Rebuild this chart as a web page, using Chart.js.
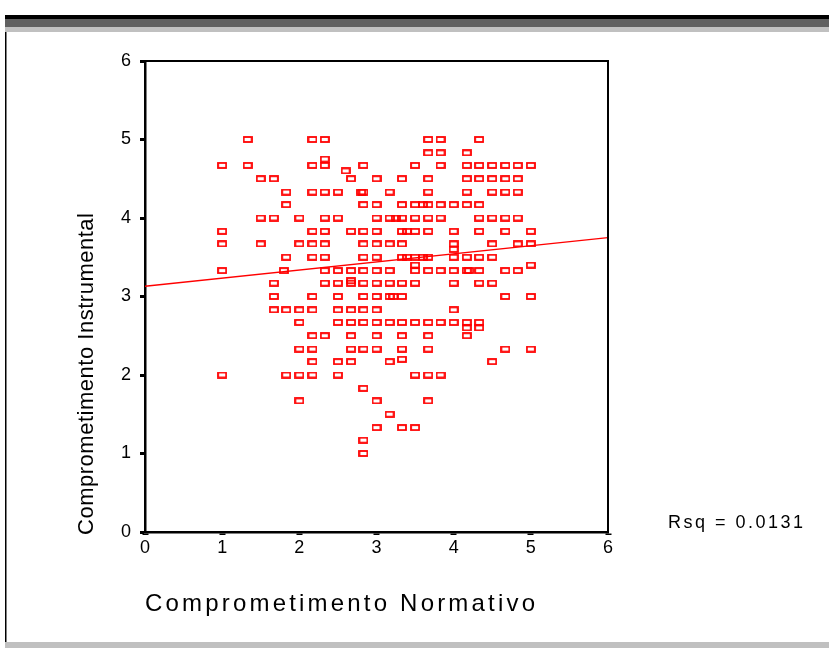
<!DOCTYPE html>
<html>
<head>
<meta charset="utf-8">
<script src="https://cdn.jsdelivr.net/npm/chart.js@4/dist/chart.umd.min.js"></script>
<style>
  html, body { margin: 0; padding: 0; background: #fff; overflow: hidden; }
  #wrap { position: relative; width: 829px; height: 648px; }
</style>
</head>
<body>
<div id="wrap"><canvas id="c" width="829" height="648"></canvas></div>
<script>
// Observations: Comprometimento Normativo (x) vs Comprometimento Instrumental (y)
const normativo = [
  1.33, 1, 1.33, 1.5, 1.67, 1.83, 1.83, 1.5, 1.67, 2, 1, 1, 1.5, 2, 1.83, 1, 1.8, 1.67, 1.67, 1.67,
  1.83, 2, 2, 2, 1, 1.83, 2, 2,
  2.17, 2.33, 3.67, 3.83, 4.33,
  3.67, 3.83, 4.17,
  2.33,
  2.17, 2.33, 2.83, 3.5, 3.83, 4.17, 4.33, 4.5, 4.67, 4.83, 5,
  2.6,
  2.67, 3, 3.33, 3.67, 4.17, 4.33, 4.5, 4.67, 4.83,
  2.17, 2.33, 2.5, 2.8, 2.83, 3.17, 3.67, 4.17, 4.5, 4.67, 4.83,
  2.83, 3, 3.33, 3.5, 3.6, 3.67, 3.83, 4, 4.17, 4.33,
  2.33, 2.5, 3, 3.17, 3.25, 3.33, 3.5, 3.67, 3.83, 4.33, 4.5, 4.67, 4.83,
  2.17, 2.33, 2.67, 2.83, 3, 3.33, 3.4, 3.5, 3.67, 4, 4.33, 4.67, 5,
  2.17, 2.33, 2.83, 3, 3.17, 3.33, 4, 4.5, 4.83, 5,
  4,
  2.17, 2.33, 2.83, 3, 3.33, 3.4, 3.5, 3.6, 3.67, 4, 4.17, 4.33, 4.5,
  3.5, 5,
  2.33, 2.5, 2.67, 2.83, 3, 3.17, 3.5, 3.67, 3.83, 4, 4.17, 4.2, 4.33, 4.67, 4.83,
  2.67,
  2.33, 2.5, 2.67, 2.83, 3, 3.17, 3.33, 3.5, 4, 4.33, 4.5,
  2.17, 2.5, 2.83, 3, 3.17, 3.22, 3.33, 4.67, 5,
  2.17, 2.5, 2.67, 2.83, 3, 4,
  2.5, 2.67, 2.83, 3, 3.17, 3.33, 3.5, 3.67, 3.83, 4, 4.17, 4.33,
  4.17, 4.33,
  2.17, 2.33, 2.67, 3, 3.33, 3.67, 4.17,
  2.17, 2.67, 2.83, 3, 3.33, 3.67, 4.67, 5,
  3.33,
  2.17, 2.5, 2.67, 3.17, 4.5,
  2.17, 2.5, 3.5, 3.67, 3.83,
  2.83,
  3, 3.67,
  3.17,
  3, 3.33, 3.5,
  2.83,
  2.83
];
const instrumental = [
  5, 4.67, 4.67, 4.5, 4.5, 4.33, 4.17, 4, 4, 4, 3.83, 3.67, 3.67, 3.67, 3.5, 3.33, 3.33, 3.17, 3, 2.83,
  2.83, 2.83, 2.67, 2.33, 2, 2, 2, 1.67,
  5, 5, 5, 5, 5,
  4.83, 4.83, 4.83,
  4.75,
  4.67, 4.67, 4.67, 4.67, 4.67, 4.67, 4.67, 4.67, 4.67, 4.67, 4.67,
  4.6,
  4.5, 4.5, 4.5, 4.5, 4.5, 4.5, 4.5, 4.5, 4.5,
  4.33, 4.33, 4.33, 4.33, 4.33, 4.33, 4.33, 4.33, 4.33, 4.33, 4.33,
  4.17, 4.17, 4.17, 4.17, 4.17, 4.17, 4.17, 4.17, 4.17, 4.17,
  4, 4, 4, 4, 4, 4, 4, 4, 4, 4, 4, 4, 4,
  3.83, 3.83, 3.83, 3.83, 3.83, 3.83, 3.83, 3.83, 3.83, 3.83, 3.83, 3.83, 3.83,
  3.67, 3.67, 3.67, 3.67, 3.67, 3.67, 3.67, 3.67, 3.67, 3.67,
  3.6,
  3.5, 3.5, 3.5, 3.5, 3.5, 3.5, 3.5, 3.5, 3.5, 3.5, 3.5, 3.5, 3.5,
  3.4, 3.4,
  3.33, 3.33, 3.33, 3.33, 3.33, 3.33, 3.33, 3.33, 3.33, 3.33, 3.33, 3.33, 3.33, 3.33, 3.33,
  3.2,
  3.17, 3.17, 3.17, 3.17, 3.17, 3.17, 3.17, 3.17, 3.17, 3.17, 3.17,
  3, 3, 3, 3, 3, 3, 3, 3, 3,
  2.83, 2.83, 2.83, 2.83, 2.83, 2.83,
  2.67, 2.67, 2.67, 2.67, 2.67, 2.67, 2.67, 2.67, 2.67, 2.67, 2.67, 2.67,
  2.6, 2.6,
  2.5, 2.5, 2.5, 2.5, 2.5, 2.5, 2.5,
  2.33, 2.33, 2.33, 2.33, 2.33, 2.33, 2.33, 2.33,
  2.2,
  2.17, 2.17, 2.17, 2.17, 2.17,
  2, 2, 2, 2, 2,
  1.83,
  1.67, 1.67,
  1.5,
  1.33, 1.33, 1.33,
  1.17,
  1
];

// Axis ticks and the fitted line (ends at the axis limits)
const xTicks = [0, 1, 2, 3, 4, 5, 6];
const yTicks = [0, 1, 2, 3, 4, 5, 6];
const fitX = [0, 6];
const fitY = [3.13, 3.75];

const xTitle = 'Comprometimento Normativo';
const yTitle = 'Comprometimento Instrumental';
const rsqLabel = 'Rsq = 0.0131';

const FONT = '"Liberation Sans", Arial, Helvetica, sans-serif';
const RED = '#ff0000';

// Hollow rectangular marker
function boxMarker() {
  const c = document.createElement('canvas');
  c.width = 10; c.height = 7;
  const g = c.getContext('2d');
  g.strokeStyle = RED;
  g.lineWidth = 1.8;
  g.strokeRect(1, 1, 8, 5);
  return c;
}

// Text with extra letter spacing so it spans a given width
function spacedText(ctx, text, x, y, width) {
  const chars = [...text];
  const natural = ctx.measureText(text).width;
  const gap = chars.length > 1 ? (width - natural) / (chars.length - 1) : 0;
  let cx = x;
  for (const ch of chars) {
    ctx.fillText(ch, cx, y);
    cx += ctx.measureText(ch).width + gap;
  }
}

const pageFrame = {
  id: 'pageFrame',
  beforeDraw(chart) {
    const ctx = chart.ctx;
    ctx.save();
    ctx.fillStyle = '#ffffff';
    ctx.fillRect(0, 0, chart.width, chart.height);
    ctx.fillStyle = '#000000';
    ctx.fillRect(5, 15, chart.width - 5, 4);
    ctx.fillStyle = '#606060';
    ctx.fillRect(5, 19, chart.width - 5, 8);
    ctx.fillStyle = '#c0c0c0';
    ctx.fillRect(5, 27, chart.width - 5, 5);
    ctx.fillRect(5, 642, chart.width - 5, 6);
    ctx.fillStyle = '#000000';
    ctx.fillRect(5, 32, 1.5, 610);
    ctx.restore();
  }
};

const plotDecor = {
  id: 'plotDecor',
  afterDraw(chart) {
    const ctx = chart.ctx;
    const a = chart.chartArea;
    ctx.save();
    // top and right edges of the plot box
    ctx.strokeStyle = '#000000';
    ctx.lineWidth = 2;
    ctx.beginPath();
    ctx.moveTo(a.left, a.top);
    ctx.lineTo(a.right, a.top);
    ctx.lineTo(a.right, a.bottom);
    ctx.stroke();

    ctx.fillStyle = '#000000';
    ctx.textBaseline = 'middle';
    ctx.textAlign = 'left';

    // x-axis title
    ctx.font = '24px ' + FONT;
    spacedText(ctx, xTitle, 145, 604, 390);

    // y-axis title, reading upward
    ctx.save();
    ctx.translate(87, 535);
    ctx.rotate(-Math.PI / 2);
    ctx.font = '22px ' + FONT;
    spacedText(ctx, yTitle, 0, 0, 322);
    ctx.restore();

    // R-squared of the fit
    ctx.font = '18px ' + FONT;
    spacedText(ctx, rsqLabel, 668, 523, 135);
    ctx.restore();
  }
};

const points = normativo.map((x, i) => ({ x: x, y: instrumental[i] }));
const fitLine = fitX.map((x, i) => ({ x: x, y: fitY[i] }));

new Chart(document.getElementById('c'), {
  type: 'scatter',
  data: {
    datasets: [
      {
        label: 'Observações',
        data: points,
        pointStyle: boxMarker(),
        pointRadius: 4,
        pointHoverRadius: 4
      },
      {
        type: 'line',
        label: 'Ajuste linear',
        data: fitLine,
        borderColor: RED,
        borderWidth: 1.4,
        pointRadius: 0,
        fill: false,
        tension: 0
      }
    ]
  },
  options: {
    responsive: false,
    animation: false,
    devicePixelRatio: 1,
    layout: { padding: { left: 0, top: 61, right: 221, bottom: 86 } },
    plugins: {
      legend: { display: false },
      tooltip: { enabled: false },
      title: { display: false }
    },
    scales: {
      x: {
        type: 'linear',
        min: 0,
        max: 6,
        afterBuildTicks: (s) => { s.ticks = xTicks.map(v => ({ value: v })); },
        afterFit: (s) => { s.height = 30; },
        ticks: {
          color: '#000',
          font: { family: FONT, size: 18 },
          padding: 2,
          maxRotation: 0
        },
        grid: {
          drawOnChartArea: false,
          drawTicks: true,
          tickLength: 3,
          tickWidth: 6,
          tickColor: '#000'
        },
        border: { display: true, color: '#000', width: 2.5 }
      },
      y: {
        type: 'linear',
        min: 0,
        max: 6,
        afterBuildTicks: (s) => { s.ticks = yTicks.map(v => ({ value: v })); },
        afterFit: (s) => { s.width = 145; },
        ticks: {
          color: '#000',
          font: { family: FONT, size: 18 },
          padding: 9
        },
        grid: {
          drawOnChartArea: false,
          drawTicks: true,
          tickLength: 5,
          tickWidth: 3,
          tickColor: '#000'
        },
        border: { display: true, color: '#000', width: 2.5 }
      }
    }
  },
  plugins: [pageFrame, plotDecor]
});
</script>
</body>
</html>
